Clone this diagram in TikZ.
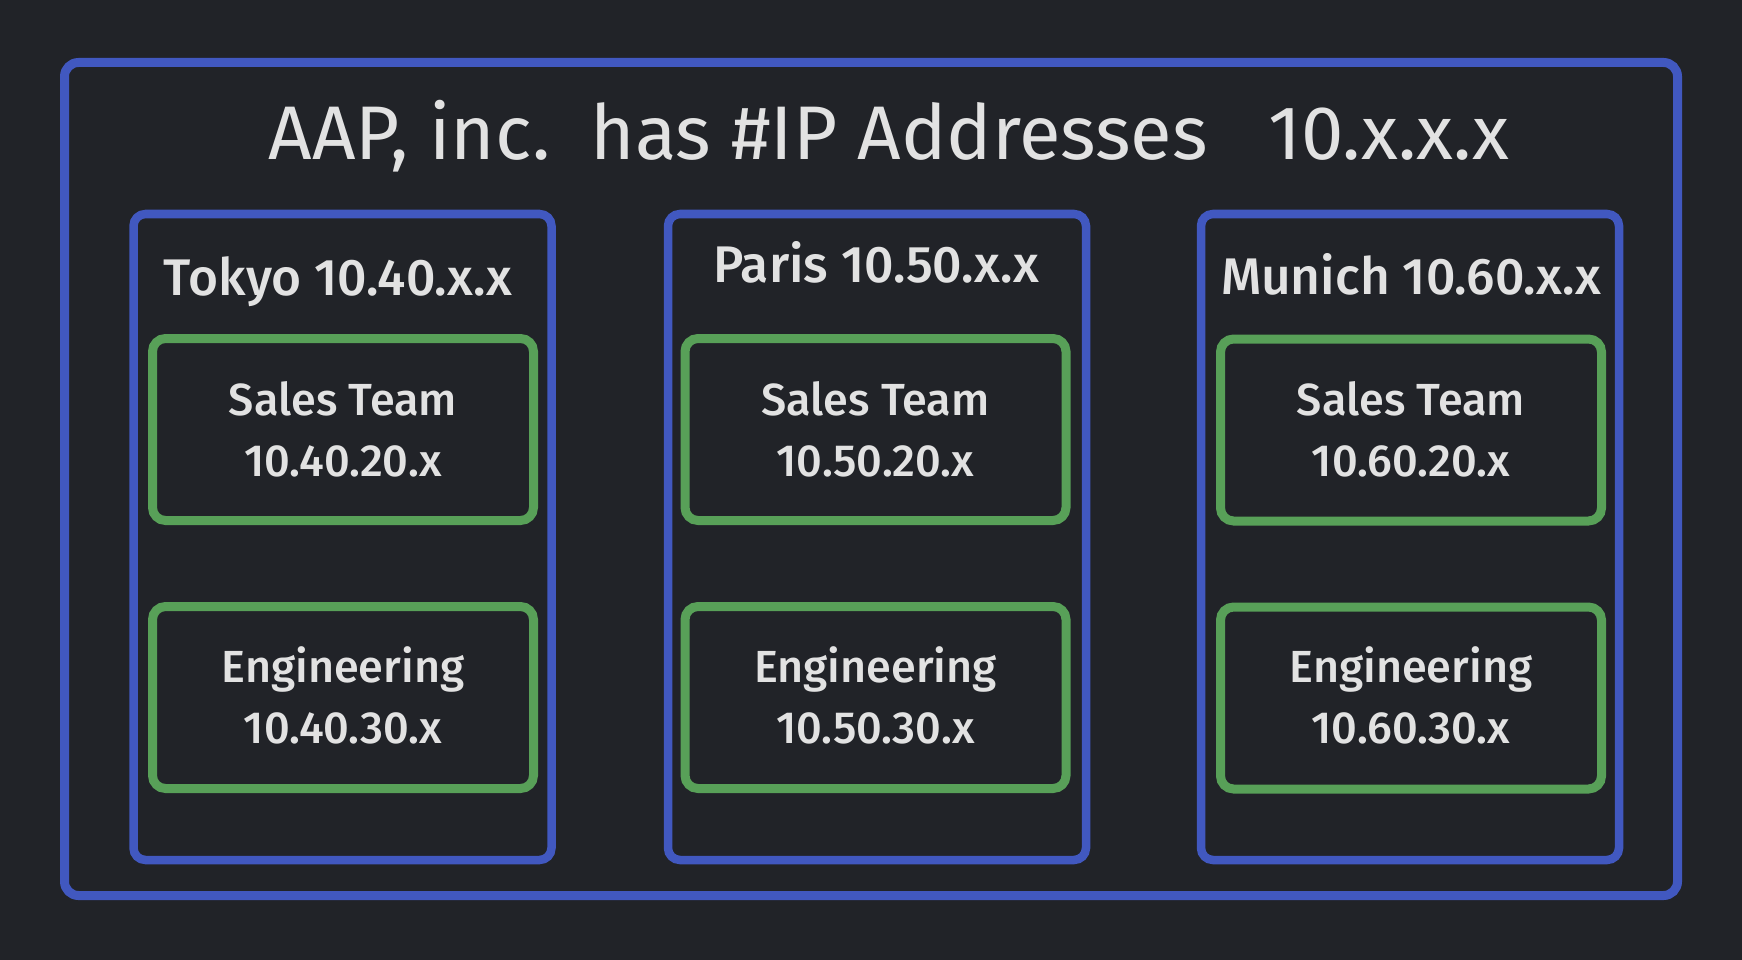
\documentclass[tikz,border=0pt]{standalone}
\usepackage{fontspec}
\setmainfont{Fira Sans}
\newfontfamily\medfont{Fira Sans Medium}
\definecolor{bg}{HTML}{212328}
\definecolor{siteblue}{HTML}{4158C0}
\definecolor{teamgreen}{HTML}{58A058}
\definecolor{ink}{HTML}{E2E2E2}
\begin{document}
\begin{tikzpicture}[x=1pt,y=-1pt,
  company/.style={draw=siteblue,line width=9pt,rounded corners=14pt,
    minimum width=1613pt,minimum height=833pt,inner sep=0pt},
  site/.style={draw=siteblue,line width=8.5pt,rounded corners=12pt,
    minimum width=418pt,minimum height=646pt,inner sep=0pt},
  team/.style={draw=teamgreen,line width=9pt,rounded corners=13pt,
    minimum width=381pt,minimum height=182pt,inner sep=0pt},
  titletext/.style={text=ink,anchor=base,inner sep=0pt,
    font=\fontsize{76}{84}\selectfont},
  sitetext/.style={text=ink,anchor=base,inner sep=0pt,
    font=\medfont\fontsize{51.5}{60}\selectfont},
  teamtext/.style={text=ink,anchor=base,inner sep=0pt,align=center,
    font=\medfont\fontsize{45}{61}\selectfont}]
% background and frame
\fill[bg] (0,0) rectangle (1742,960);
\useasboundingbox (0,0) rectangle (1742,960);

\node[company] (aap) at (871,479) {};
\node[titletext] (title) at (889,160) {AAP, inc.\ \ has \#IP Addresses\ \ \ 10.x.x.x};

% sites
\node[site] (tokyo) at (342.5,537) {};
\node[site] (paris) at (877,537) {};
\node[site] (munich) at (1410,537) {};

\node[sitetext] (tokyolbl) at (338,295) {Tokyo 10.40.x.x};
\node[sitetext] (parislbl) at (876,282) {Paris 10.50.x.x};
\node[sitetext] (munichlbl) at (1411,294) {Munich 10.60.x.x};

% teams (base anchor sits on the second text line)
\node[team] (tokyosales) at (343,429.5) {};
\node[team] (tokyoeng) at (343,697.5) {};
\node[team] (parissales) at (875.5,429.5) {};
\node[team] (pariseng) at (875.5,697.5) {};
\node[team] (munichsales) at (1411,430) {};
\node[team] (municheng) at (1411,698) {};

\node[teamtext] (tokyosaleslbl) at (343,476) {Sales Team\\10.40.20.x};
\node[teamtext] (tokyoenglbl) at (343,743) {Engineering\\10.40.30.x};
\node[teamtext] (parissaleslbl) at (875.5,476) {Sales Team\\10.50.20.x};
\node[teamtext] (parisenglbl) at (875.5,743) {Engineering\\10.50.30.x};
\node[teamtext] (munichsaleslbl) at (1411,476) {Sales Team\\10.60.20.x};
\node[teamtext] (munichenglbl) at (1411,743) {Engineering\\10.60.30.x};
\end{tikzpicture}
\end{document}
